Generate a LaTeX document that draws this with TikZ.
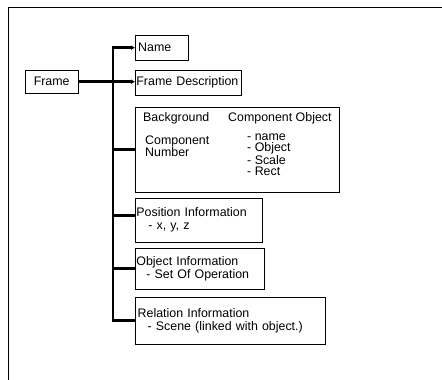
\documentclass[tikz,border=0pt]{standalone}
\usepackage{fontspec}
\setmainfont{Liberation Sans}
\usetikzlibrary{arrows.meta}

\begin{document}
\begin{tikzpicture}[x=1pt,y=-1pt,
	box/.style={ draw, thin, rectangle, anchor=north west, inner xsep=1.2pt, inner ysep=1pt, align=left, font=\fontsize{12.4}{13}\selectfont },
	txt/.style={ inner sep=0pt, anchor=west, align=left, font=\fontsize{12.4}{12}\selectfont },
	link/.style={ line width=2.8pt, line join=miter },
	tip/.style={ link, -{Latex[length=4pt,width=5pt]} }
]

\useasboundingbox (0,0) rectangle (442,380);
\draw[thin] (8,380) -- (8,7) -- (442,7);

\node at (25,70) (frame) [box,minimum width=53pt,minimum height=23pt] {Frame};
\coordinate (spine) at (113,0);

\node at (135,35) (name) [box,text width=47pt,minimum height=25pt,inner xsep=3pt] {Name};
\node at (135,70) (desc) [box,text width=104pt,minimum height=25pt] {Frame Description};
\node at (135,107) (bg) [box,minimum width=204pt,minimum height=85pt] {};
\node at (143,118) (bgt) [txt] {Background};
\node at (228,118) (cot) [txt] {Component Object};
\node at (145,146) (cnum) [txt] {Component\\Number};
\node at (247,155) (clist) [txt,font=\fontsize{12.4}{11.3}\selectfont] {- name\\- Object\\- Scale\\- Rect};
\node at (135,198) (pos) [box,text width=125pt,minimum height=44pt] {Position Information\\\hspace{12pt}- x, y, z};
\node at (135,248) (obj) [box,text width=127pt,minimum height=41pt] {Object Information\\\hspace{10pt}- Set Of Operation};
\node at (135,297) (rel) [box,text width=185pt,minimum height=47pt,inner xsep=2.5pt] {Relation Information\\\hspace{10pt}- Scene (linked with object.)};

\draw[tip] (frame.east) -- (frame.east -| desc.west);
\draw[tip] (rel.west) -| (name.west -| spine) -- (name.west);
\foreach \b in {bg,obj} \draw[link] (\b.west -| spine) -- (\b.west);
\draw[link] ([yshift=5pt]pos.west -| spine) -- ([yshift=5pt]pos.west);

\end{tikzpicture}
\end{document}
